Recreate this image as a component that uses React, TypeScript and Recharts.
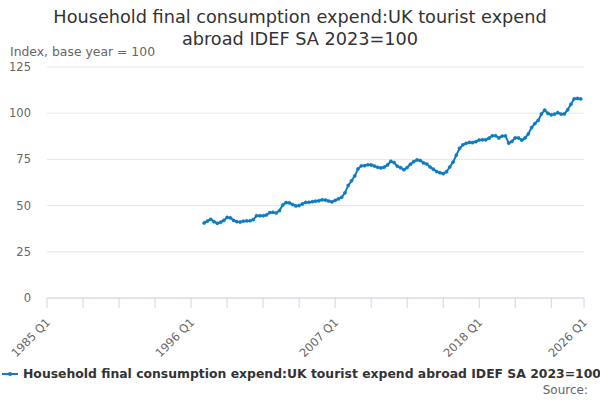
import React from 'react'
import { LineChart, Line, XAxis, YAxis, CartesianGrid } from 'recharts'

const SERIES_NAME = 'Household final consumption expend:UK tourist expend abroad IDEF SA 2023=100'
const LINE_COLOR = '#0f7bc0'
const FONT = '"DejaVu Sans", sans-serif'

// axis runs 1985 Q1 .. 2026 Q1, data starts 1997 Q1
const firstYear = 1985
const lastYear = 2026
const dataStartYear = 1997

const xTicks = [0, 11, 22, 33, 44, 55, 66, 77, 88, 99, 110, 121, 132, 143, 154, 164]
const xTickLabels = ['1985 Q1', '', '', '', '1996 Q1', '', '', '', '2007 Q1', '', '', '', '2018 Q1', '', '', '2026 Q1']
const yTicks = [0, 25, 50, 75, 100, 125]

// 1997 Q1 .. 2025 Q4
const values = [
  40.6, 41.6, 42.6, 41.3, 40.4, 41.0, 42.0, 43.6, 43.4, 42.0, 41.3, 41.1,
  41.6, 41.7, 41.8, 42.4, 44.5, 44.5, 44.5, 44.9, 46.2, 46.4, 46.0, 47.3,
  50.3, 51.6, 51.5, 50.6, 49.8, 50.0, 50.9, 51.7, 51.8, 52.1, 52.4, 52.6,
  53.1, 53.0, 52.5, 52.0, 52.8, 53.6, 54.5, 56.9, 60.9, 63.4, 66.1, 69.9,
  71.5, 71.6, 72.1, 72.0, 71.4, 70.7, 70.4, 70.8, 72.0, 74.0, 73.3, 71.3,
  70.5, 69.4, 70.6, 72.4, 73.8, 74.7, 74.4, 73.1, 72.5, 70.9, 69.7, 68.4,
  67.8, 67.3, 68.3, 70.9, 73.5, 77.3, 81.0, 82.9, 83.7, 84.2, 84.1, 84.6,
  85.5, 85.6, 85.6, 86.5, 87.8, 87.8, 86.6, 87.6, 87.7, 83.8, 84.7, 86.7,
  86.6, 85.4, 86.6, 88.8, 92.2, 94.4, 96.1, 99.6, 101.7, 99.9, 99.1, 99.5,
  100.3, 99.5, 99.6, 101.8, 104.8, 107.8, 108.0, 107.7
]

const quarters: string[] = []
for (let y = firstYear; y <= lastYear; y++) {
  for (let q = 1; q <= 4; q++) {
    if (y === lastYear && q > 1) break
    quarters.push(`${y} Q${q}`)
  }
}

const offset = (dataStartYear - firstYear) * 4
const data = quarters.map((label, i) => ({
  i,
  label,
  value: i >= offset && i - offset < values.length ? values[i - offset] : null
}))

const XTick = ({ x, y, payload }: any) => {
  const idx = xTicks.indexOf(payload.value)
  const text = idx >= 0 ? xTickLabels[idx] : ''
  if (!text) return null
  const ax = x + 4
  const ay = y + 13
  return (
    <text
      x={ax}
      y={ay}
      transform={`rotate(-45, ${ax}, ${ay})`}
      textAnchor="end"
      fontSize={11.5}
      fontFamily={FONT}
      fill="#666666"
    >
      {text}
    </text>
  )
}

export default function App() {
  return (
    <div style={{ position: 'absolute', left: 0, top: 0, width: 600, height: 400, background: '#fff', fontFamily: FONT }}>
      <div
        style={{
          position: 'absolute',
          left: 0,
          top: 6,
          width: 600,
          textAlign: 'center',
          fontSize: 17.7,
          lineHeight: '22px',
          color: '#333333'
        }}
      >
        Household final consumption expend:UK tourist expend
        <br />
        abroad IDEF SA 2023=100
      </div>
      <div style={{ position: 'absolute', left: 10, top: 44, fontSize: 12.4, color: '#666666' }}>
        Index, base year = 100
      </div>
      <LineChart
        width={600}
        height={400}
        data={data}
        margin={{ top: 67, right: 16, bottom: 32, left: 10 }}
        style={{ position: 'absolute', left: 0, top: 0 }}
      >
        <CartesianGrid vertical={false} stroke="#e6e6e6" />
        <XAxis
          dataKey="i"
          type="number"
          domain={[0, 164]}
          ticks={xTicks}
          interval={0}
          height={70}
          stroke="#ccd6eb"
          tickSize={10}
          tick={<XTick />}
        />
        <YAxis
          type="number"
          domain={[0, 125]}
          ticks={yTicks}
          width={37}
          axisLine={false}
          tickLine={false}
          tickSize={0}
          tickMargin={16}
          tick={{ fontSize: 11.5, fill: '#666666', fontFamily: FONT }}
        />
        <Line
          type="linear"
          dataKey="value"
          stroke={LINE_COLOR}
          strokeWidth={2}
          dot={{ r: 1.6, fill: LINE_COLOR, stroke: LINE_COLOR, strokeWidth: 0.5 }}
          connectNulls={false}
          isAnimationActive={false}
        />
      </LineChart>
      <div
        style={{
          position: 'absolute',
          left: 2,
          top: 366,
          display: 'flex',
          alignItems: 'center',
          whiteSpace: 'nowrap',
          fontSize: 12.4,
          fontWeight: 'bold',
          color: '#333333'
        }}
      >
        <svg width={18} height={10} style={{ marginRight: 3 }}>
          <line x1={0} y1={5} x2={16} y2={5} stroke={LINE_COLOR} strokeWidth={2} />
          <circle cx={8} cy={5} r={2} fill={LINE_COLOR} />
        </svg>
        {SERIES_NAME}
      </div>
      <div style={{ position: 'absolute', right: 12, top: 383, fontSize: 12, color: '#666666' }}>Source:</div>
    </div>
  )
}
